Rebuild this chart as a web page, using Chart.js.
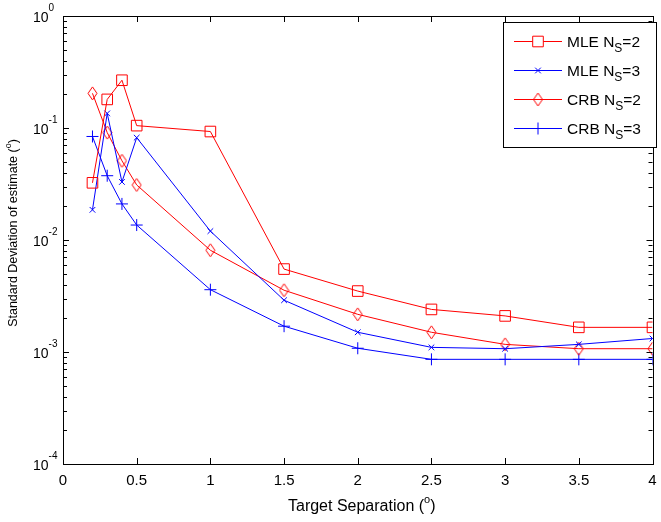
<!DOCTYPE html>
<html>
<head>
<meta charset="utf-8">
<script src="https://cdn.jsdelivr.net/npm/chart.js@4"></script>
<style>
  html, body { margin: 0; padding: 0; background: #fff; }
  #wrap { width: 661px; height: 522px; }
</style>
</head>
<body>
<div id="wrap"><canvas id="grafico" width="661" height="522"></canvas></div>
<script>
// separação dos alvos (graus)
const separacao = [0.2, 0.3, 0.4, 0.5, 1, 1.5, 2, 2.5, 3, 3.5, 4];
const mleNs2 = [0.0324, 0.18, 0.267, 0.105, 0.093, 0.0055, 0.0035, 0.0024, 0.0021, 0.00166, 0.00166];
const mleNs3 = [0.0186, 0.135, 0.033, 0.082, 0.012, 0.0029, 0.0015, 0.0011, 0.00107, 0.00117, 0.00132];
const crbNs2 = [0.204, 0.091, 0.051, 0.031, 0.0081, 0.00356, 0.00217, 0.0015, 0.00117, 0.00107, 0.00107];
const crbNs3 = [0.084, 0.0375, 0.021, 0.0136, 0.0036, 0.0017, 0.00108, 0.00086, 0.00086, 0.00086, 0.00086];
const xTicks = [0, 0.5, 1, 1.5, 2, 2.5, 3, 3.5, 4];
const xTickLabels = ["0", "0.5", "1", "1.5", "2", "2.5", "3", "3.5", "4"];
const yExpoentes = [0, -1, -2, -3, -4];

const FONTE = "Liberation Sans, Arial, sans-serif";
const vermelho = "#ff0000";
const azul = "#0000ff";

// losango alto como no MATLAB
function losango() {
  const c = document.createElement("canvas");
  c.width = 11; c.height = 15;
  const g = c.getContext("2d");
  g.strokeStyle = vermelho; g.lineWidth = 1;
  g.beginPath();
  g.moveTo(5.5, 1); g.lineTo(10, 7.5); g.lineTo(5.5, 14); g.lineTo(1, 7.5); g.closePath();
  g.stroke();
  return c;
}
const marcaLosango = losango();

function pontos(vals) {
  return separacao.map((x, i) => ({ x: x, y: vals[i] }));
}

const series = [
  { label: "MLE N", sub: "S", tail: "=2", data: mleNs2, cor: vermelho, estilo: "rect", raio: 7.5 },
  { label: "MLE N", sub: "S", tail: "=3", data: mleNs3, cor: azul, estilo: "crossRot", raio: 4 },
  { label: "CRB N", sub: "S", tail: "=2", data: crbNs2, cor: vermelho, estilo: marcaLosango, raio: 6 },
  { label: "CRB N", sub: "S", tail: "=3", data: crbNs3, cor: azul, estilo: "cross", raio: 6 }
];

// escreve texto com expoente; devolve largura
function comExpoente(ctx, base, exp, fim, x, y, tamBase, tamExp, sobe) {
  ctx.font = tamBase + "px " + FONTE;
  ctx.fillText(base, x, y);
  const wb = ctx.measureText(base).width;
  ctx.font = tamExp + "px " + FONTE;
  ctx.fillText(exp, x + wb, y - sobe);
  const we = ctx.measureText(exp).width;
  ctx.font = tamBase + "px " + FONTE;
  ctx.fillText(fim, x + wb + we, y);
  return wb + we + ctx.measureText(fim).width;
}
function larguraExpoente(ctx, base, exp, fim, tamBase, tamExp) {
  ctx.font = tamBase + "px " + FONTE;
  let w = ctx.measureText(base).width + ctx.measureText(fim).width;
  ctx.font = tamExp + "px " + FONTE;
  return w + ctx.measureText(exp).width;
}

const eixosMatlab = {
  id: "eixosMatlab",
  afterDatasetsDraw(chart) {
    const ctx = chart.ctx;
    const a = chart.chartArea;
    const sx = chart.scales.x, sy = chart.scales.y;
    ctx.save();
    ctx.strokeStyle = "#000";
    ctx.lineWidth = 1;
    ctx.strokeRect(Math.round(a.left) + 0.5, Math.round(a.top) + 0.5,
                   Math.round(a.right - a.left), Math.round(a.bottom - a.top));
    ctx.beginPath();
    // ticks x
    xTicks.forEach(v => {
      const px = Math.round(sx.getPixelForValue(v)) + 0.5;
      ctx.moveTo(px, a.bottom); ctx.lineTo(px, a.bottom - 6);
      ctx.moveTo(px, a.top); ctx.lineTo(px, a.top + 6);
    });
    // ticks y (maiores e menores)
    for (let e = -4; e <= 0; e++) {
      for (let m = 1; m <= 9; m++) {
        const v = m * Math.pow(10, e);
        if (v > 1.0001) break;
        const py = Math.round(sy.getPixelForValue(v)) + 0.5;
        const len = m === 1 ? 6 : 4;
        ctx.moveTo(a.left, py); ctx.lineTo(a.left + len, py);
        ctx.moveTo(a.right, py); ctx.lineTo(a.right - len, py);
      }
    }
    ctx.stroke();

    ctx.fillStyle = "#000";
    ctx.textBaseline = "alphabetic";
    ctx.font = "15px " + FONTE;
    ctx.textAlign = "center";
    xTicks.forEach((v, i) => {
      ctx.fillText(xTickLabels[i], sx.getPixelForValue(v), a.bottom + 21);
    });
    ctx.textAlign = "left";
    yExpoentes.forEach(e => {
      const py = sy.getPixelForValue(Math.pow(10, e));
      comExpoente(ctx, "10", String(e), "", 33, py + 6, 14, 10, 11);
    });

    // título eixo x
    const wx = larguraExpoente(ctx, "Target Separation (", "o", ")", 16, 11);
    comExpoente(ctx, "Target Separation (", "o", ")", (a.left + a.right) / 2 + 4 - wx / 2, 511, 16, 11, 8);

    // título eixo y
    ctx.save();
    ctx.translate(17, 233);
    ctx.rotate(-Math.PI / 2);
    const wy = larguraExpoente(ctx, "Standard Deviation of estimate (", "o", ")", 12.5, 9);
    comExpoente(ctx, "Standard Deviation of estimate (", "o", ")", -wy / 2, 0, 12.5, 9, 6);
    ctx.restore();

    // legenda
    const lx = 503.5, ly = 22.5, lw = 153, lh = 125;
    ctx.fillStyle = "#fff";
    ctx.fillRect(lx, ly, lw, lh);
    ctx.strokeStyle = "#000";
    ctx.strokeRect(lx, ly, lw, lh);
    series.forEach((s, i) => {
      const yy = 41 + i * 29;
      ctx.strokeStyle = s.cor;
      ctx.lineWidth = 1;
      ctx.beginPath();
      ctx.moveTo(514, yy + 0.5); ctx.lineTo(562, yy + 0.5);
      ctx.stroke();
      Chart.helpers.drawPoint(ctx, {
        pointStyle: s.estilo, radius: s.raio, borderWidth: 1, rotation: 0
      }, 538, yy + 0.5);
      ctx.fillStyle = "#000";
      ctx.font = "15.5px " + FONTE;
      ctx.fillText(s.label, 567, yy + 6);
      const wl = ctx.measureText(s.label).width;
      ctx.font = "12px " + FONTE;
      ctx.fillText(s.sub, 567 + wl, yy + 11);
      const ws = ctx.measureText(s.sub).width;
      ctx.font = "15.5px " + FONTE;
      ctx.fillText(s.tail, 567 + wl + ws, yy + 6);
    });
    ctx.restore();
  }
};

new Chart(document.getElementById("grafico"), {
  type: "scatter",
  data: {
    datasets: series.map(s => ({
      label: s.label + s.sub + s.tail,
      data: pontos(s.data),
      showLine: true,
      borderColor: s.cor,
      backgroundColor: "rgba(0,0,0,0)",
      borderWidth: 1,
      pointStyle: s.estilo,
      pointRadius: s.raio,
      pointHoverRadius: s.raio,
      pointBorderColor: s.cor,
      pointBorderWidth: 1,
      tension: 0
    }))
  },
  options: {
    responsive: false,
    animation: false,
    events: [],
    layout: { padding: { left: 63, right: 3, top: 16, bottom: 58 } },
    scales: {
      x: { type: "linear", min: 0, max: 4, display: false },
      y: { type: "logarithmic", min: 0.0001, max: 1, display: false }
    },
    plugins: {
      legend: { display: false },
      tooltip: { enabled: false },
      title: { display: false }
    }
  },
  plugins: [eixosMatlab]
});
</script>
</body>
</html>
